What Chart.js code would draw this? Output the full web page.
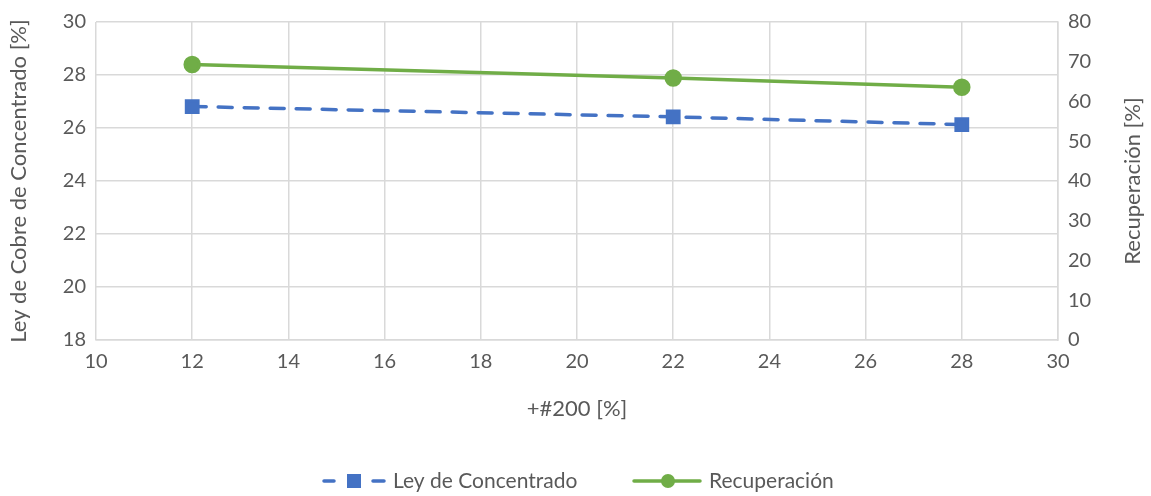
<!DOCTYPE html>
<html>
<head>
<meta charset="utf-8">
<script src="https://cdn.jsdelivr.net/npm/chart.js@4/dist/chart.umd.min.js"></script>
<style>
  html, body { margin: 0; padding: 0; background: #fff; }
  #wrap { width: 1151px; height: 496px; position: relative; }
</style>
</head>
<body>
<div id="wrap"><canvas id="chart"></canvas></div>
<script>
const mesh = [12, 22, 28];
const leyCobre = [26.81, 26.42, 26.13];
const recuperacion = [69.3, 65.9, 63.6];
const leyLabel = 'Ley de Concentrado';
const recLabel = 'Recuperación';
const rightTitle = 'Recuperación [%]';

const blue = '#4472C4';
const green = '#70AD47';
const gridColor = '#D9D9D9';
const textColor = '#595959';
const fontFamily = 'Lato, "Open Sans", sans-serif';

// legend and right-hand title drawn by hand (dashed line + square marker, bottom-to-top text)
const extras = {
  id: 'extras',
  afterDraw(chart) {
    const c = chart.ctx;
    const y = 481;
    c.save();
    c.font = '21px ' + fontFamily;
    c.textBaseline = 'middle';
    // Ley de Concentrado: dash, square, dash
    c.strokeStyle = blue;
    c.lineWidth = 3.5;
    c.lineCap = 'round';
    c.beginPath();
    c.moveTo(324, y); c.lineTo(334, y);
    c.moveTo(373, y); c.lineTo(384, y);
    c.stroke();
    c.fillStyle = blue;
    c.fillRect(347, y - 7, 14, 14);
    c.fillStyle = textColor;
    c.fillText(leyLabel, 393, y);
    // Recuperación
    c.strokeStyle = green;
    c.beginPath(); c.moveTo(634, y); c.lineTo(700, y); c.stroke();
    c.fillStyle = green;
    c.beginPath(); c.arc(668, y, 7, 0, Math.PI * 2); c.fill();
    c.fillStyle = textColor;
    c.fillText(recLabel, 709, y);
    // right axis title
    const area = chart.chartArea;
    c.translate(1133, (area.top + area.bottom) / 2);
    c.rotate(-Math.PI / 2);
    c.textAlign = 'center';
    c.font = '22px ' + fontFamily;
    c.fillText(rightTitle, 0, 0);
    c.restore();
  }
};

new Chart(document.getElementById('chart'), {
  type: 'line',
  data: {
    datasets: [{
      label: leyLabel,
      data: mesh.map((x, i) => ({ x: x, y: leyCobre[i] })),
      yAxisID: 'y',
      borderColor: blue,
      backgroundColor: blue,
      borderWidth: 3.5,
      borderDash: [14, 12],
      borderCapStyle: 'round',
      pointStyle: 'rect',
      pointRadius: 8,
      pointHoverRadius: 8,
      tension: 0
    }, {
      label: recLabel,
      data: mesh.map((x, i) => ({ x: x, y: recuperacion[i] })),
      yAxisID: 'y1',
      borderColor: green,
      backgroundColor: green,
      borderWidth: 3.5,
      pointStyle: 'circle',
      pointRadius: 7,
      pointHoverRadius: 7,
      tension: 0
    }]
  },
  options: {
    responsive: true,
    maintainAspectRatio: false,
    animation: false,
    layout: { padding: { top: 20, bottom: 70, left: 0, right: 0 } },
    plugins: {
      legend: { display: false },
      tooltip: { enabled: false }
    },
    scales: {
      x: {
        type: 'linear',
        min: 10, max: 30,
        ticks: { stepSize: 2, color: textColor, font: { size: 20, family: fontFamily }, padding: 10 },
        grid: { color: gridColor, lineWidth: 1.5, drawTicks: false },
        border: { color: gridColor, width: 1.5 },
        title: { display: true, text: '+#200 [%]', color: textColor, font: { size: 22, family: fontFamily }, padding: { top: 12, bottom: 4 } },
        afterFit(s) { s.height = 86; }
      },
      y: {
        position: 'left',
        min: 18, max: 30,
        ticks: { stepSize: 2, color: textColor, font: { size: 20, family: fontFamily }, padding: 10 },
        grid: { color: gridColor, lineWidth: 1.5, drawTicks: false },
        border: { display: false },
        title: { display: true, text: 'Ley de Cobre de Concentrado [%]', color: textColor, font: { size: 22, family: fontFamily }, padding: { top: 6, bottom: 0 } },
        afterFit(s) { s.width = 96; }
      },
      y1: {
        position: 'right',
        min: 0, max: 80,
        ticks: { stepSize: 10, color: textColor, font: { size: 20, family: fontFamily }, padding: 10 },
        grid: { drawOnChartArea: false, drawTicks: false },
        border: { color: gridColor, width: 1.5 },
        title: { display: false },
        afterFit(s) { s.width = 93; }
      }
    }
  },
  plugins: [extras]
});
</script>
</body>
</html>
